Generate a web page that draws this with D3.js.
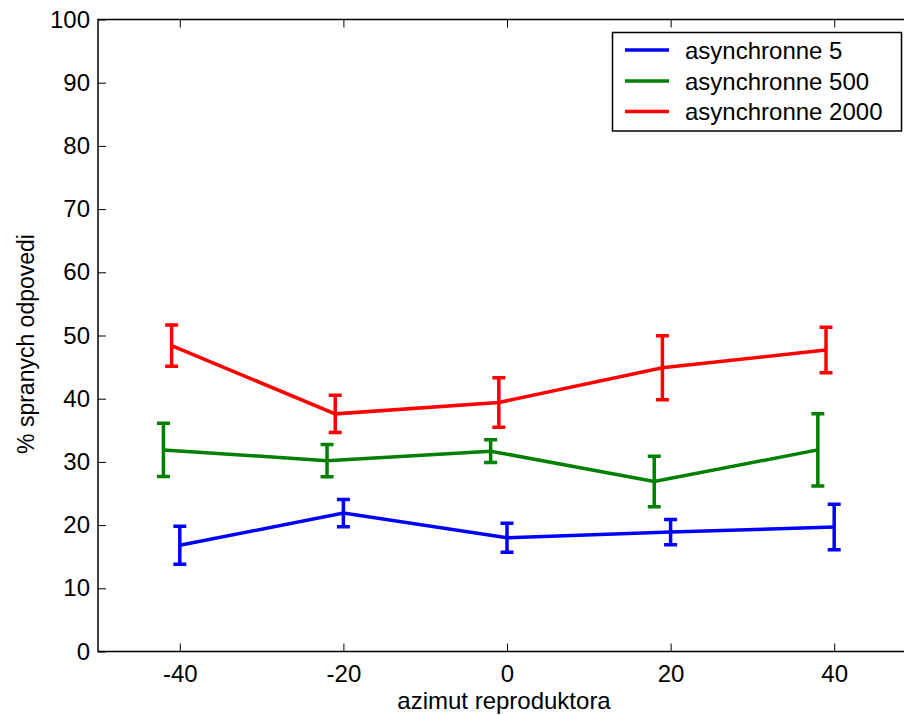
<!DOCTYPE html>
<html>
<head>
<meta charset="utf-8">
<script src="https://cdn.jsdelivr.net/npm/d3@7"></script>
<style>
  html, body { margin: 0; padding: 0; background: #fff; }
  svg { display: block; }
  text { font-family: "Liberation Sans", Arial, sans-serif; fill: #000; }
</style>
</head>
<body>
<svg id="chart" width="904" height="715"></svg>
<script>
// ---- data ----
const azimuths = [-40, -20, 0, 20, 40];
const seriesNames = ["asynchronne 5", "asynchronne 500", "asynchronne 2000"];
const seriesOffsets = [0, -2, -1];
const async5 = [16.8, 21.9, 18.0, 18.9, 19.7];
const async5Err = [3.0, 2.15, 2.3, 2.0, 3.6];
const async500 = [31.9, 30.2, 31.7, 26.9, 31.9];
const async500Err = [4.2, 2.55, 1.8, 4.0, 5.7];
const async2000 = [48.4, 37.6, 39.4, 44.9, 47.7];
const async2000Err = [3.25, 2.95, 3.9, 5.05, 3.6];
const xTicks = [-40, -20, 0, 20, 40];
const yTicks = [0, 10, 20, 30, 40, 50, 60, 70, 80, 90, 100];
const colors = ["#0000ff", "#008000", "#ff0000"];
const xLabel = "azimut reproduktora";
const yLabel = "% spranych odpovedi";

const seriesValues = [async5, async500, async2000];
const seriesErrs = [async5Err, async500Err, async2000Err];

// ---- layout ----
const svg = d3.select("#chart");
const pL = 98, pR = 916, pT = 19.5, pB = 651.5;
const fs = 24;

const x = d3.scaleLinear().domain([-50, 50]).range([pL, pR]);
const y = d3.scaleLinear().domain([0, 100]).range([pB, pT]);

const fmt = d => String(d);

// axes
const gx = svg.append("g").attr("transform", `translate(0,${pB})`)
  .call(d3.axisBottom(x).tickValues(xTicks).tickSizeInner(-8).tickSizeOuter(0).tickPadding(13).tickFormat(fmt));
const gxTop = svg.append("g").attr("transform", `translate(0,${pT})`)
  .call(d3.axisTop(x).tickValues(xTicks).tickSizeInner(-8).tickSizeOuter(0).tickFormat(""));
const gy = svg.append("g").attr("transform", `translate(${pL},0)`)
  .call(d3.axisLeft(y).tickValues(yTicks).tickSizeInner(-8).tickSizeOuter(0).tickPadding(8).tickFormat(fmt));

[gx, gxTop, gy].forEach(g => {
  g.select(".domain").remove();
  g.selectAll(".tick line").attr("stroke", "#000").attr("stroke-width", 1);
  g.selectAll(".tick text").style("font-size", fs + "px").style("font-family", '"Liberation Sans", Arial, sans-serif').attr("fill", "#000");
});

// frame
svg.append("path")
  .attr("d", `M${pR},${pT}H${pL}V${pB}H${pR}`)
  .attr("fill", "none").attr("stroke", "#000").attr("stroke-width", 1.5);

// series
const line = d3.line().x(d => x(d.x)).y(d => y(d.v));
const capW = 6.5;
seriesValues.forEach((vals, si) => {
  const pts = vals.map((v, i) => ({ x: azimuths[i] + seriesOffsets[si], v: v, e: seriesErrs[si][i] }));
  const g = svg.append("g").attr("stroke", colors[si]).attr("stroke-width", 3.5).attr("fill", "none");
  g.append("path").attr("d", line(pts)).attr("stroke-linejoin", "miter");
  pts.forEach(p => {
    const xc = x(p.x), y1 = y(p.v + p.e), y0 = y(p.v - p.e);
    g.append("path").attr("d", `M${xc},${y1}V${y0}M${xc - capW},${y1}H${xc + capW}M${xc - capW},${y0}H${xc + capW}`);
  });
});

// axis labels
svg.append("text").attr("x", 504).attr("y", 709).attr("text-anchor", "middle")
  .style("font-size", fs + "px").text(xLabel);
svg.append("text").attr("transform", "translate(34,344) rotate(-90)").attr("text-anchor", "middle")
  .style("font-size", "23px").text(yLabel);

// legend
const lg = svg.append("g");
lg.append("rect").attr("x", 612.5).attr("y", 32.5).attr("width", 289).attr("height", 98.5)
  .attr("fill", "#fff").attr("stroke", "#000").attr("stroke-width", 1.5);
const rowY = [50, 81, 111.5];
seriesNames.forEach((name, i) => {
  lg.append("line").attr("x1", 625).attr("x2", 669).attr("y1", rowY[i]).attr("y2", rowY[i])
    .attr("stroke", colors[i]).attr("stroke-width", 3.5);
  lg.append("text").attr("x", 685).attr("y", rowY[i] + 8.5).style("font-size", fs + "px").text(name);
});
</script>
</body>
</html>
